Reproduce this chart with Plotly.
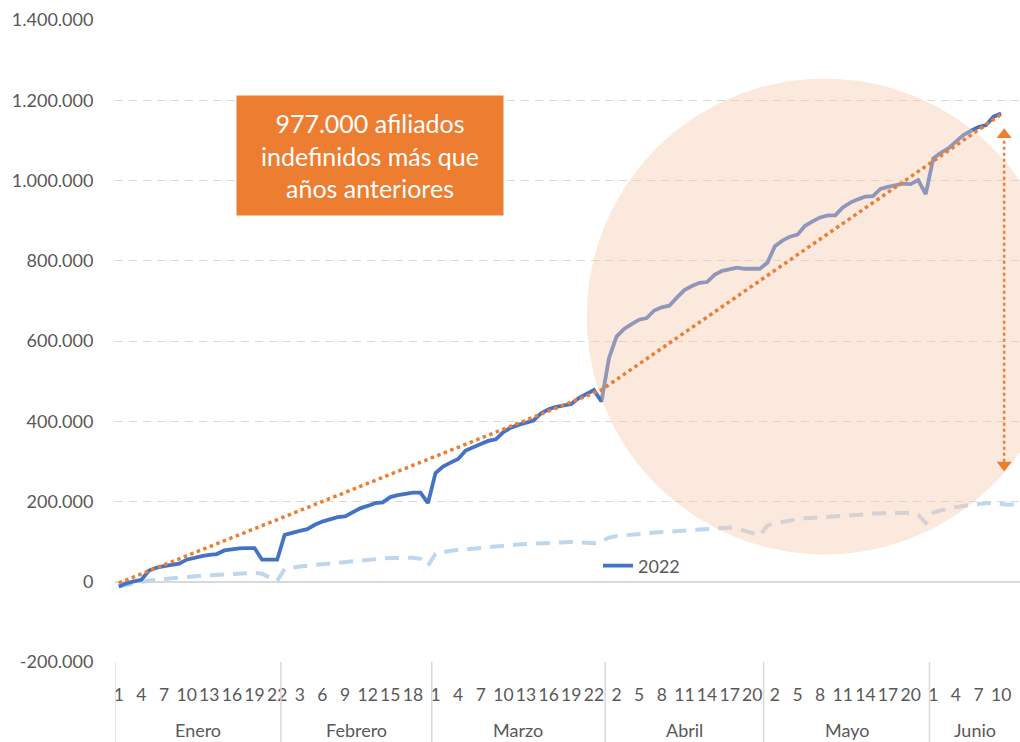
import numpy as np
import plotly.graph_objects as go

# ---------------- data ----------------
months = ["Enero", "Febrero", "Marzo", "Abril", "Mayo", "Junio"]
month_days = [22, 20, 23, 21, 22, 12]

# afiliados indefinidos acumulados 2022 (miles)
afil_2022_k = [
    # Enero
    -12, -4, 1, 5, 28, 35, 39, 42, 45, 55, 60, 64, 67, 69, 78, 81, 83, 84, 84, 55, 55, 55,
    # Febrero
    117, 123, 127, 131, 142, 150, 156, 161, 163, 174, 183, 189, 196, 198, 211, 216, 220, 222, 222, 196,
    # Marzo
    271, 287, 297, 306, 327, 336, 343, 351, 355, 373, 384, 391, 397, 402, 420, 430, 436, 440, 443, 458, 468, 478, 449,
    # Abril
    557, 611, 630, 642, 653, 657, 676, 684, 688, 708, 727, 737, 745, 747, 765, 775, 780, 783, 780, 780, 780,
    # Mayo
    795, 836, 850, 860, 865, 887, 898, 908, 913, 913, 933, 945, 953, 960, 961, 979, 984, 988, 992, 991, 1001, 966,
    # Junio
    1055, 1069, 1080, 1097, 1113, 1124, 1133, 1138, 1159, 1167, None, None,
]

# media años anteriores (miles)
anteriores_k = [
    # Enero
    -12, -8, -4, 0, 3, 5, 7, 9, 11, 12, 14, 15, 16, 17, 19, 20, 21, 22, 22, 20, 12, 2,
    # Febrero
    32, 36, 38, 40, 42, 43, 45, 47, 50, 52, 54, 56, 57, 58, 59, 60, 60, 60, 57, 40,
    # Marzo
    70, 74, 77, 79, 81, 83, 85, 87, 88, 90, 92, 93, 94, 95, 96, 97, 98, 99, 99, 98, 96, 96, 100,
    # Abril
    110, 114, 116, 118, 120, 121, 123, 124, 125, 126, 127, 128, 129, 131, 132, 134, 135, 133, 128, 121, 115,
    # Mayo
    140, 146, 150, 154, 156, 158, 159, 160, 162, 163, 164, 166, 167, 168, 170, 171, 172, 172, 172, 171, 167, 146,
    # Junio
    172, 178, 183, 186, 189, 192, 194, 196, 195, 193, 192, 194,
]

# tendencia (índice de día, miles)
trend_idx = [0, 64, 117]
trend_k = [-3, 478, 1165]

# flecha de diferencia (miles)
gap_top_k = 1114
gap_bottom_k = 291

y_ticks = list(range(-200000, 1400001, 200000))
box_text = "977.000 afiliados<br>indefinidos más que<br>años anteriores"

# ---------------- build ----------------
N = sum(month_days)
x = list(range(N))
afil = [v * 1000 if v is not None else None for v in afil_2022_k]
prev = [v * 1000 for v in anteriores_k]

# tick labels: day number within month, every 3rd point
day_in_month = []
for d in month_days:
    day_in_month += list(range(1, d + 1))
tick_idx = [i for i in range(N) if i % 3 == 0]
tick_txt = [str(day_in_month[i]) for i in tick_idx]

starts = np.cumsum([0] + month_days)
bounds = [s - 0.5 for s in starts[:-1]]
centers = [(starts[k] + starts[k + 1] - 1) / 2 for k in range(len(months))]

BLUE = "#4472C4"
LIGHT = "#BDD7EE"
ORANGE = "#ED7D31"
GRID = "#D9D9D9"
TXT = "#595959"
FONT = "Lato, Carlito, Calibri, sans-serif"

fig = go.Figure()

fig.add_trace(go.Scatter(
    x=x, y=prev, mode="lines", showlegend=False, hoverinfo="skip",
    line=dict(color=LIGHT, width=4, dash="14px,9px"),
))
fig.add_trace(go.Scatter(
    x=x, y=afil, mode="lines", name="2022",
    line=dict(color=BLUE, width=3.8),
))

# highlight circle (decorative), in data units so it renders round
px_per_x = 905 / 120.0
px_per_y = 642 / 1600000.0
cx, cy = 93.6, 661000
r_px = 238
t = np.linspace(0, 2 * np.pi, 240)
fig.add_trace(go.Scatter(
    x=cx + (r_px / px_per_x) * np.cos(t),
    y=cy + (r_px / px_per_y) * np.sin(t),
    mode="lines", fill="toself", fillcolor="rgba(248,203,173,0.42)",
    line=dict(width=0), showlegend=False, hoverinfo="skip",
))

fig.add_trace(go.Scatter(
    x=trend_idx, y=[v * 1000 for v in trend_k], mode="lines", showlegend=False,
    line=dict(color=ORANGE, width=3.5, dash="dot"), hoverinfo="skip",
))

gap_x = trend_idx[-1] + 0.4
fig.add_trace(go.Scatter(
    x=[gap_x, gap_x], y=[gap_top_k * 1000, gap_bottom_k * 1000],
    mode="lines+markers", showlegend=False, hoverinfo="skip",
    line=dict(color=ORANGE, width=2.5, dash="dot"),
    marker=dict(symbol=["triangle-up", "triangle-down"], size=13, color=ORANGE),
))

shapes = []
for b in bounds:
    shapes.append(dict(type="line", xref="x", yref="paper", x0=b, x1=b, y0=0, y1=-0.13,
                       line=dict(color=GRID, width=1.5), layer="above"))

annotations = []
for name, c in zip(months, centers):
    annotations.append(dict(text=name, x=c, xref="x", y=-0.106, yref="paper",
                            showarrow=False, xanchor="center", yanchor="middle",
                            font=dict(size=18, color=TXT, family=FONT)))
annotations.append(dict(
    text=box_text, xref="paper", yref="paper", x=(370 - 115) / 905, y=(662 - 155.5) / 642,
    xanchor="center", yanchor="middle", showarrow=False, width=266, height=119,
    borderpad=0, bgcolor=ORANGE, align="center", valign="middle",
    font=dict(size=25, color="white", family=FONT),
))

fig.update_layout(
    width=1020, height=742,
    margin=dict(l=115, r=0, t=20, b=80),
    paper_bgcolor="white", plot_bgcolor="white",
    font=dict(family=FONT, color=TXT, size=18),
    shapes=shapes, annotations=annotations,
    showlegend=True,
    legend=dict(x=(598 - 115) / 905, y=(662 - 566) / 642, xanchor="left", yanchor="middle",
                bgcolor="rgba(0,0,0,0)", font=dict(size=18, color=TXT, family=FONT)),
)
fig.update_xaxes(
    range=[-0.5, N - 0.5], tickmode="array", tickvals=tick_idx, ticktext=tick_txt,
    tickangle=0,
    showgrid=False, zeroline=False, showline=False,
    ticks="outside", ticklen=17, tickcolor="rgba(0,0,0,0)",
    tickfont=dict(size=17.5, color=TXT, family=FONT),
)
fig.update_yaxes(
    range=[-200000, 1400000], tickmode="array", tickvals=y_ticks,
    ticktext=[f"{v:,}".replace(",", ".") for v in y_ticks],
    showgrid=True, gridcolor=GRID, gridwidth=1, griddash="8px,6px",
    zeroline=True, zerolinecolor=GRID, zerolinewidth=2, showline=False,
    ticks="outside", ticklen=17, tickcolor="rgba(0,0,0,0)",
    tickfont=dict(size=18, color=TXT, family=FONT),
)

fig.write_html("out.html", config={"displayModeBar": False},
               post_script="document.body.style.margin='0';")
